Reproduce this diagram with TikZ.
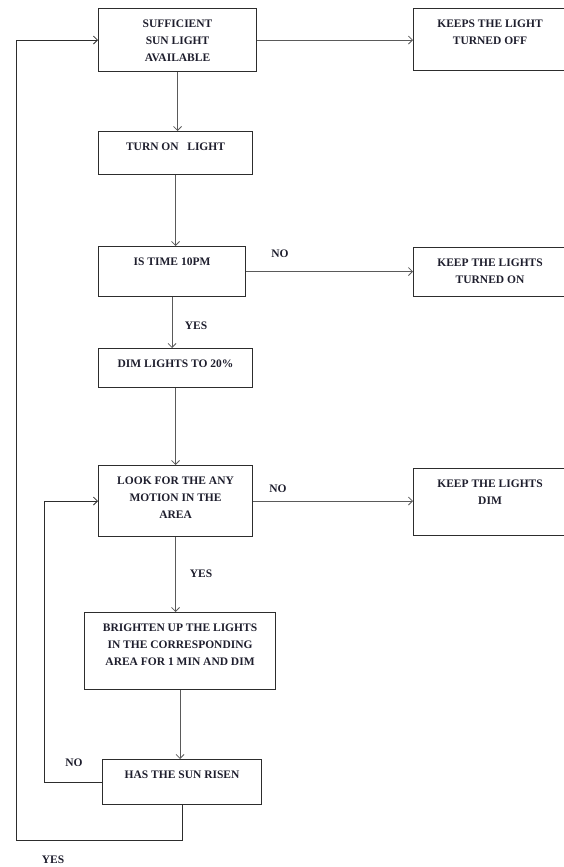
\documentclass[tikz,border=0pt]{standalone}
\usepackage{fontspec}
\setmainfont{Liberation Serif}
\usetikzlibrary{arrows.meta}
\definecolor{linecolor}{RGB}{90,90,90}
\definecolor{boxcolor}{RGB}{45,45,45}
\definecolor{textcolor}{RGB}{30,30,45}
\newcommand{\flowtext}[3]{\parbox[t][#2][t]{#1}{\centering #3}}
\tikzset{
  flowbox/.style={
    rectangle,
    draw=boxcolor,
    line width=1.1pt,
    anchor=north west,
    inner xsep=0pt,
    inner ysep=11pt,
    text=textcolor,
    font=\bfseries\fontsize{11.5}{17}\selectfont
  },
  answer/.style={
    inner sep=0pt,
    text=textcolor,
    font=\bfseries\fontsize{11.5}{17}\selectfont
  },
  arrow/.style={
    -{Straight Barb[length=4pt,width=8pt]},
    draw=linecolor,
    line width=0.8pt
  }
}

\begin{document}
\begin{tikzpicture}[x=1pt, y=-1pt]
\useasboundingbox (0,0) rectangle (563,867);

% Main column
\node[flowbox] (sun) at (98,8) {\flowtext{158pt}{41pt}{SUFFICIENT\\SUN LIGHT\\AVAILABLE}};
\node[flowbox] (turnon) at (98,131) {\flowtext{154pt}{21pt}{TURN ON~~~LIGHT}};
\node[flowbox] (istime) at (98,246) {\flowtext{147pt}{28pt}{IS TIME 10PM}};
\node[flowbox] (dim) at (98,348) {\flowtext{154pt}{17pt}{DIM LIGHTS TO 20\%}};
\node[flowbox] (look) at (98,465) {\flowtext{154pt}{49pt}{LOOK FOR THE ANY\\MOTION IN THE\\AREA}};
\node[flowbox] (bright) at (84,612) {\flowtext{191pt}{55pt}{BRIGHTEN UP THE LIGHTS\\IN THE CORRESPONDING\\AREA FOR 1 MIN AND DIM}};
\node[flowbox] (has) at (102,759) {\flowtext{159pt}{23pt}{HAS THE SUN RISEN}};

% Right column
\node[flowbox] (off) at (413,8) {\flowtext{153pt}{40pt}{KEEPS THE LIGHT\\TURNED OFF}};
\node[flowbox] (keepon) at (413,247) {\flowtext{153pt}{27pt}{KEEP THE LIGHTS\\TURNED ON}};
\node[flowbox] (keepdim) at (413,468) {\flowtext{153pt}{45pt}{KEEP THE LIGHTS\\DIM}};

% Answers
\node[answer] (notime) at (280,254) {NO};
\node[answer] (yestime) at (196,326) {YES};
\node[answer] (nomotion) at (278,489) {NO};
\node[answer] (yesmotion) at (201,574) {YES};
\node[answer] (nosun) at (74,763) {NO};
\node[answer] (yessun) at (53,860) {YES};

% Arrows
\draw[arrow] (sun.east) -- (sun.east -| off.west);
\draw[arrow] (sun.south) -- (sun.south |- turnon.north);
\draw[arrow] (turnon.south) -- (turnon.south |- istime.north);
\draw[arrow] (istime.east) -- (istime.east -| keepon.west);
\draw[arrow] (istime.south) -- (istime.south |- dim.north);
\draw[arrow] (dim.south) -- (dim.south |- look.north);
\draw[arrow] (look.east) -- (look.east -| keepdim.west);
\draw[arrow] (look.south) -- (look.south |- bright.north);
\draw[arrow] (bright.south) -- (bright.south |- has.north);

% Loops back
\draw[arrow, draw=boxcolor] (has.west) -- ++(-58,0) |- (look.west);
\draw[arrow, draw=boxcolor] (has.south) -- ++(0,35) -| ([xshift=-82pt]sun.west) -- (sun.west);

\end{tikzpicture}
\end{document}
